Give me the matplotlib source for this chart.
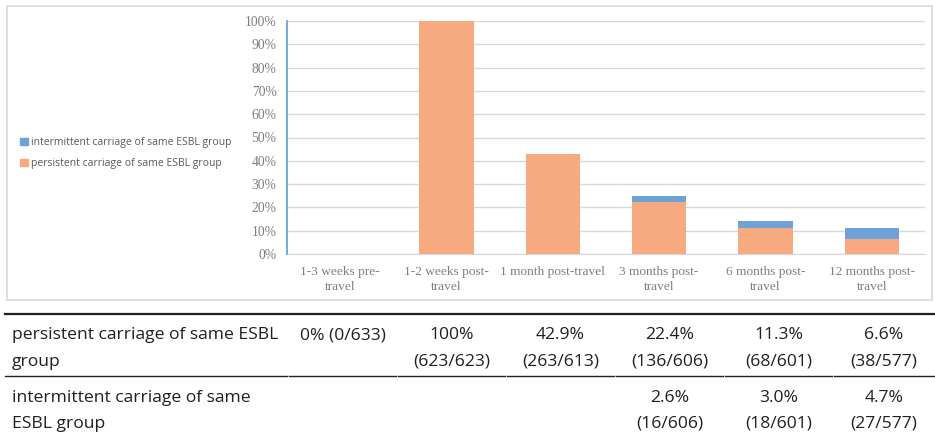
import matplotlib
matplotlib.use("Agg")
import matplotlib.pyplot as plt
from matplotlib.patches import Rectangle, Patch
from matplotlib.lines import Line2D
import numpy as np

categories = ["1-3 weeks pre-\ntravel", "1-2 weeks post-\ntravel", "1 month post-travel",
              "3 months post-\ntravel", "6 months post-\ntravel", "12 months post-\ntravel"]
persistent = [0, 100, 42.9, 22.4, 11.3, 6.6]
intermittent = [0, 0, 0, 2.6, 3.0, 4.7]
yticks = [0, 10, 20, 30, 40, 50, 60, 70, 80, 90, 100]

row_labels = ["persistent carriage of same ESBL\ngroup", "intermittent carriage of same\nESBL group"]
persistent_cells = ["0% (0/633)", "100%\n(623/623)", "42.9%\n(263/613)", "22.4%\n(136/606)",
                    "11.3%\n(68/601)", "6.6%\n(38/577)"]
intermittent_cells = ["", "", "", "2.6%\n(16/606)", "3.0%\n(18/601)", "4.7%\n(27/577)"]

orange = "#F7A97F"
blue = "#6FA2D6"
grid_c = "#D9D9D9"
W, H = 935, 437

fig = plt.figure(figsize=(W / 100, H / 100), dpi=100)

def fx(px):
    return px / W

def fy(py):
    return 1 - py / H

# chart area border
fig.patches.append(Rectangle((fx(7), fy(300)), fx(932) - fx(7), fy(6) - fy(300),
                             transform=fig.transFigure, fill=False, edgecolor=grid_c, lw=1.2))

ax = fig.add_axes([fx(287), fy(254), fx(925) - fx(287), fy(21) - fy(254)])
x = np.arange(len(categories))
ax.bar(x, persistent, width=0.51, color=orange, zorder=3)
ax.bar(x, intermittent, width=0.51, bottom=persistent, color=blue, zorder=3)

ax.set_xlim(-0.5, len(categories) - 0.5)
ax.set_ylim(0, 100)
ax.set_yticks(yticks)
ax.set_yticklabels([f"{t}%" for t in yticks], family="Liberation Serif", fontsize=9.8, color="#7F7F7F")
ax.set_xticks(x)
ax.set_xticklabels(categories, family="Liberation Serif", fontsize=9.6, color="#7F7F7F", linespacing=1.25)
ax.tick_params(length=0)
ax.tick_params(axis="x", pad=9)
ax.tick_params(axis="y", pad=7.5)
ax.yaxis.grid(True, color=grid_c, lw=1, zorder=0)
for s in ["top", "right"]:
    ax.spines[s].set_visible(False)
ax.spines["bottom"].set_color(grid_c)
ax.spines["left"].set_color("#5B9BD5")
ax.spines["left"].set_linewidth(1.2)
ax.spines["left"].set_zorder(4)

handles = [Patch(color=blue, label="intermittent carriage of same ESBL group"),
           Patch(color=orange, label="persistent carriage of same ESBL group")]
leg = fig.legend(handles=handles, loc="center left", bbox_to_anchor=(fx(11), fy(153)),
                 frameon=False, prop={"family": "Open Sans", "size": 7.5},
                 handlelength=0.7, handleheight=0.7, handletextpad=0.3, labelspacing=0.95)
for t in leg.get_texts():
    t.set_color("#595959")

# table below the chart
col_edges = [4, 288, 397, 506, 615, 724, 833, 935]
tfont = {"family": "Open Sans", "size": 12.6, "color": "#231F20"}

def hline(y, lw):
    for a, b in zip(col_edges[:-1], col_edges[1:]):
        fig.add_artist(Line2D([fx(a + 1), fx(b - 1)], [fy(y), fy(y)], transform=fig.transFigure,
                              color="#231F20", lw=lw))

hline(314, 1.6)
hline(376, 1.0)

def put_row(label, cells, base1, base2):
    for i, line in enumerate(label.split("\n")):
        fig.text(fx(12), fy([base1, base2][i]), line, ha="left", va="baseline", **tfont)
    for j, cell in enumerate(cells):
        cx = (col_edges[j + 1] + col_edges[j + 2]) / 2
        for i, line in enumerate(cell.split("\n")):
            fig.text(fx(cx), fy([base1, base2][i]), line, ha="center", va="baseline", **tfont)

put_row(row_labels[0], persistent_cells, 339, 366)
put_row(row_labels[1], intermittent_cells, 402, 428)

fig.savefig("out.png", dpi=100)
